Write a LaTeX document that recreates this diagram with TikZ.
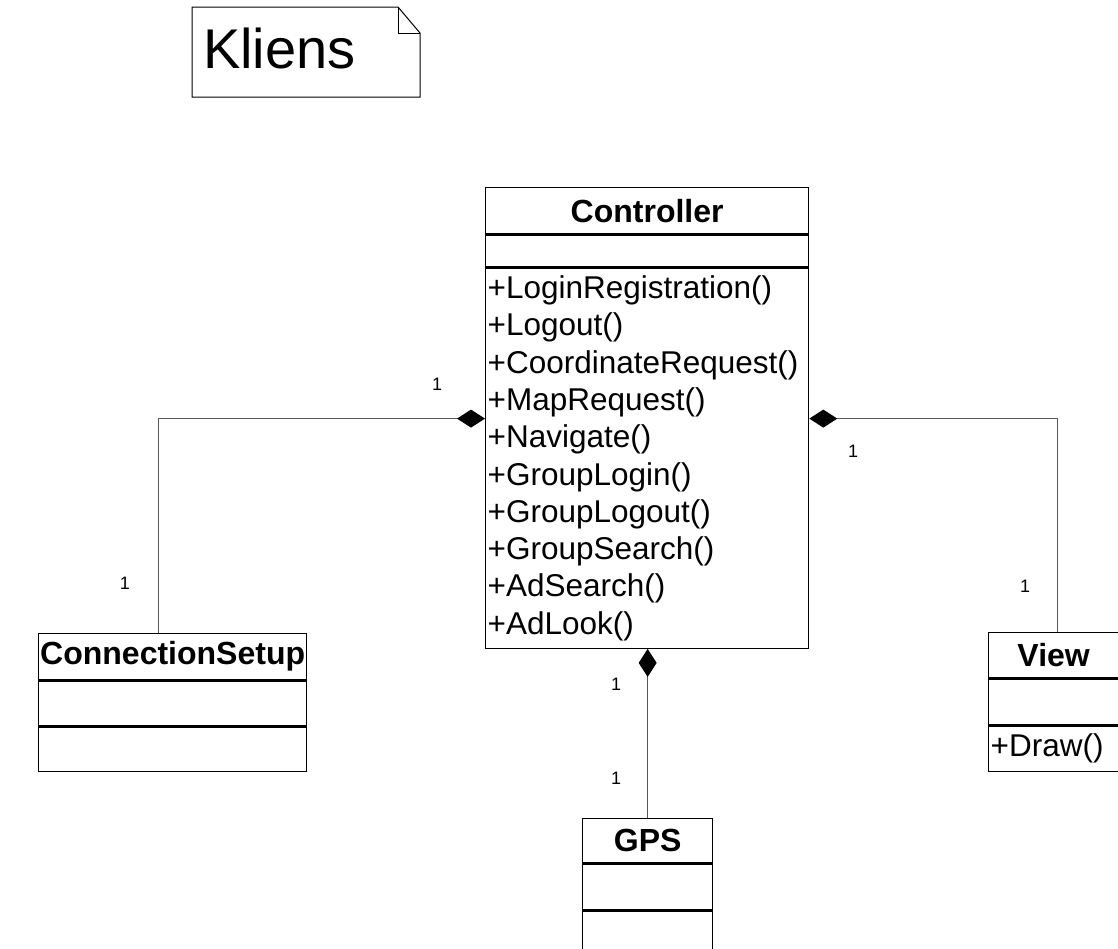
\documentclass[tikz,border=0pt]{standalone}
\usepackage{fontspec}
\setmainfont{Liberation Sans}
\usetikzlibrary{arrows.meta}
\usetikzlibrary{positioning}

\begin{document}
\begin{tikzpicture}[x=1pt, y=-1pt,
  box/.style={draw, line width=1.3pt, anchor=north west, inner sep=0pt, font=\fontsize{31.5}{37.3}\selectfont},
  title/.style={box, font=\fontsize{32}{37.3}\selectfont\bfseries},
  link/.style={draw=black!65, line width=1.2pt, -{Diamond[length=28pt, width=18pt, color=black]}},
  mult/.style={font=\fontsize{18}{21}\selectfont}]

\useasboundingbox (0,0) rectangle (1118,948);

% note
\draw[line width=1pt] (192,7) -- (398,7) -- (420,33) -- (420,97) -- (192,97) -- cycle;
\draw[line width=1pt] (398,7) -- (398,33) -- (420,33);
\node[anchor=base west, inner sep=0pt, font=\fontsize{56}{60}\selectfont] (kliens) at (203,68) {Kliens};

% Controller
\node[title, minimum width=323pt, minimum height=46pt] (ctrl) at (485,187) {Controller};
\node[box, minimum width=323pt, minimum height=32pt] (ctrlattr) at (ctrl.south west) {};
\node[box, text width=319pt, inner xsep=2pt, minimum height=380pt, align=left] (ctrlops) at (ctrlattr.south west)
  {+LoginRegistration()\\+Logout()\\+CoordinateRequest()\\+MapRequest()\\+Navigate()\\+GroupLogin()\\+GroupLogout()\\+GroupSearch()\\+AdSearch()\\+AdLook()};

% ConnectionSetup
\node[title, minimum width=268pt, minimum height=46pt] (cs) at (38,633) {ConnectionSetup};
\node[box, minimum width=268pt, minimum height=45pt] (csattr) at (cs.south west) {};
\node[box, minimum width=268pt, minimum height=44pt] (csops) at (csattr.south west) {};

% View
\node[title, minimum width=138pt, minimum height=45pt] (view) at (988,632) {\hspace*{-8pt}View};
\node[box, minimum width=138pt, minimum height=46pt] (viewattr) at (view.south west) {};
\node[box, text width=134pt, inner xsep=2pt, minimum height=45pt, align=left] (viewops) at (viewattr.south west) {+Draw()};

% GPS
\node[title, minimum width=130pt, minimum height=44pt] (gps) at (582,818) {GPS};
\node[box, minimum width=130pt, minimum height=46pt] (gpsattr) at (gps.south west) {};
\node[box, minimum width=130pt, minimum height=46pt] (gpsops) at (gpsattr.south west) {};

% connectors
\draw[link] ([xshift=-14pt]cs.north) |- ([yshift=-151pt]ctrlops.north west);
\draw[link] (view.north) |- ([yshift=-151pt]ctrlops.north east);
\draw[link] (gps.north) -- (ctrlops.south -| gps.north);

\node[mult] (m1) at (437,384) {1};
\node[mult] (m2) at (125,583) {1};
\node[mult] (m3) at (853,451) {1};
\node[mult] (m4) at (1025,586) {1};
\node[mult] (m5) at (616,684) {1};
\node[mult] (m6) at (616,778) {1};

\end{tikzpicture}
\end{document}
